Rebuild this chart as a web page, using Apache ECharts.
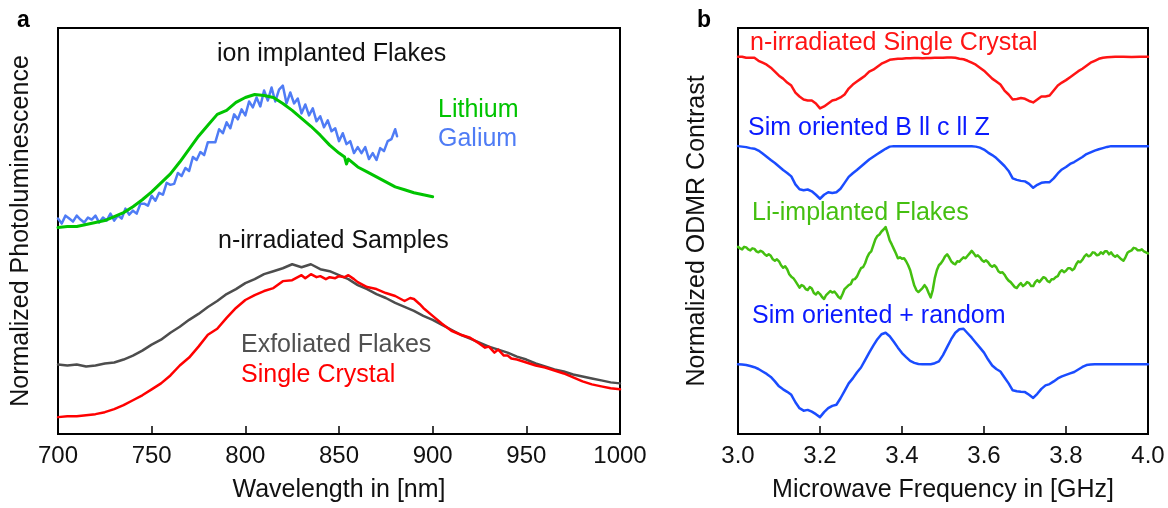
<!DOCTYPE html>
<html>
<head>
<meta charset="utf-8">
<script src="https://cdn.jsdelivr.net/npm/echarts@6/dist/echarts.min.js"></script>
<style>
html,body{margin:0;padding:0;background:#fff;}
#c{width:1168px;height:508px;}
</style>
</head>
<body>
<div id="c"></div>
<script>
// ---------- Panel a: photoluminescence (wavelength nm, normalized PL in arbitrary units) ----------
const wavelengthTicks = [700, 750, 800, 850, 900, 950, 1000];
const lithium = [[700,208],[705,209],[710,209],[715,211],[720,213],[725,215],[730,219],[735,223],[740,229],[745,236],[750,244],[755,253],[760,262],[765,274],[770,287],[775,300],[780,311],[785,322],[790,326],[795,334],[800,339],[805,342],[810,341],[815,339],[820,333],[825,326],[830,318],[835,310],[840,301],[845,291],[850,283],[853,279],[854,272],[855,277],[860,269],[865,264],[870,259],[875,254],[880,249],[885,246],[890,243],[895,241],[900,239]];
const galium = [[700,217],[702,212],[704,220],[706,217],[708,214],[710,220],[712,216],[714,213],[716,218],[718,216],[720,220],[722,213],[724,218],[726,215],[728,222],[730,215],[732,220],[734,217],[736,227],[738,221],[740,225],[742,222],[744,232],[746,232],[748,230],[750,240],[752,235],[754,243],[756,241],[758,253],[760,251],[762,252],[764,263],[766,260],[768,268],[770,265],[772,279],[774,276],[776,284],[778,281],[780,294],[782,294],[784,294],[786,307],[788,303],[790,314],[792,308],[794,322],[796,317],[798,327],[800,321],[802,335],[804,329],[806,339],[808,330],[810,346],[812,336],[814,349],[816,335],[818,347],[820,351],[822,333],[824,344],[826,333],[828,338],[830,323],[832,332],[834,321],[836,328],[838,315],[840,320],[842,309],[844,316],[846,305],[848,308],[850,295],[852,303],[854,292],[856,295],[858,283],[860,289],[862,283],[864,289],[866,277],[868,283],[870,276],[872,288],[874,285],[876,295],[878,297],[880,307],[881,300]];
const exfoliated = [[700,70],[705,69],[710,70],[715,68],[720,69],[725,71],[730,72],[735,75],[740,79],[745,84],[750,90],[755,95],[760,102],[765,108],[770,115],[775,121],[780,128],[785,134],[790,141],[795,146],[800,152],[805,156],[810,161],[815,164],[820,167],[825,171],[830,168],[835,171],[840,166],[845,164],[850,160],[855,156],[860,150],[865,146],[870,141],[875,137],[880,132],[885,128],[890,124],[895,119],[900,115],[905,110],[910,105],[915,100],[920,96],[925,92],[930,88],[935,85],[940,82],[945,78],[950,75],[955,71],[960,68],[965,65],[970,63],[975,60],[980,58],[985,56],[990,54],[995,52],[1000,51]];
const singleCrystal = [[700,17],[705,18],[710,18],[715,19],[720,20],[725,22],[730,25],[735,29],[740,34],[745,39],[750,45],[755,51],[760,59],[765,69],[770,77],[775,88],[780,100],[785,106],[790,117],[795,127],[800,135],[805,140],[810,144],[815,147],[820,154],[825,155],[830,160],[832,157],[835,161],[838,158],[840,159],[843,156],[845,158],[848,157],[850,159],[853,158],[855,160],[858,156],[860,153],[865,148],[870,146],[875,142],[880,139],[885,134],[888,137],[890,136],[893,131],[895,127],[900,119],[905,111],[910,104],[915,100],[920,97],[925,91],[928,87],[930,88],[933,82],[935,85],[938,79],[940,79],[942,76],[945,75],[950,72],[955,69],[960,67],[965,64],[970,61],[975,57],[980,53],[985,50],[990,48],[995,46],[1000,45]];

// ---------- Panel b: ODMR (frequency GHz, normalized contrast, offset traces) ----------
const freqTicks = [3.0, 3.2, 3.4, 3.6, 3.8, 4.0];
const odmrCrystal = [[3.00,380],[3.01,380],[3.02,379],[3.03,379],[3.04,379],[3.05,376],[3.06,374],[3.07,372],[3.08,369],[3.09,365],[3.10,361],[3.11,358],[3.12,354],[3.13,351],[3.14,344],[3.15,340],[3.16,337],[3.17,336],[3.18,336],[3.19,333],[3.20,328],[3.21,330],[3.22,333],[3.23,336],[3.24,337],[3.25,339],[3.26,342],[3.27,348],[3.28,352],[3.29,355],[3.30,358],[3.31,361],[3.32,365],[3.33,367],[3.34,370],[3.35,373],[3.36,375],[3.37,377],[3.38,377.5],[3.39,378],[3.40,378],[3.41,378.5],[3.42,378.5],[3.43,378.7],[3.44,378.7],[3.45,378.5],[3.46,378.8],[3.47,378.8],[3.48,379],[3.49,379],[3.50,379],[3.51,379.2],[3.52,379.3],[3.53,379],[3.54,378],[3.55,377.5],[3.56,376],[3.57,374],[3.58,372],[3.59,369],[3.60,366],[3.61,362],[3.62,358],[3.63,355],[3.64,352],[3.65,346],[3.66,342],[3.67,337],[3.68,337.5],[3.69,338.5],[3.70,337.7],[3.71,335.5],[3.72,334],[3.73,337],[3.74,340],[3.75,340],[3.76,341],[3.77,346],[3.78,351],[3.79,354],[3.80,356.5],[3.81,359.5],[3.82,362.5],[3.83,365.5],[3.84,368],[3.85,371],[3.86,374],[3.87,376],[3.88,378],[3.89,379],[3.90,379.5],[3.92,380],[3.94,380],[3.96,379.8],[3.98,380],[4.00,380]];
const odmrSimOriented = [[3.00,290],[3.01,289.5],[3.02,289],[3.03,288],[3.04,287.4],[3.05,285.5],[3.06,282.5],[3.07,279.3],[3.08,276],[3.09,273],[3.10,269.5],[3.11,266],[3.12,263],[3.13,259.5],[3.14,251.5],[3.15,246.5],[3.16,245.5],[3.17,246.3],[3.18,244.5],[3.19,241],[3.20,237],[3.21,241],[3.22,243.5],[3.23,242.8],[3.24,243.5],[3.25,247],[3.26,253],[3.27,259],[3.28,262.7],[3.29,266],[3.30,269.5],[3.31,273],[3.32,276.5],[3.33,279.3],[3.34,282],[3.35,284.7],[3.36,287.3],[3.37,289.5],[3.38,290],[3.45,290],[3.50,290],[3.56,290],[3.57,289.8],[3.58,289.5],[3.59,288.5],[3.60,286.5],[3.61,283.5],[3.62,281],[3.63,278],[3.64,274],[3.65,270],[3.66,265],[3.67,257.5],[3.68,256],[3.69,255],[3.70,254.5],[3.71,252],[3.72,248],[3.73,251],[3.74,253],[3.75,253.7],[3.76,253.7],[3.77,257.5],[3.78,262.5],[3.79,266.5],[3.80,269],[3.81,272],[3.82,274],[3.83,276.5],[3.84,279],[3.85,282],[3.86,283.8],[3.87,285.5],[3.88,286.8],[3.89,288],[3.90,289.2],[3.91,290],[4.00,290]];
const odmrLiFlakes = [[3.00,188.5],[3.005,187],[3.01,186],[3.015,188.5],[3.02,188],[3.025,186],[3.03,185],[3.035,187],[3.04,186.5],[3.045,184],[3.05,183],[3.055,184.5],[3.06,183.5],[3.065,181],[3.07,179.5],[3.075,181],[3.08,179.5],[3.085,176],[3.09,174.5],[3.095,176],[3.10,174],[3.105,170],[3.11,167.5],[3.115,169],[3.12,166],[3.125,161],[3.13,158.5],[3.135,157],[3.14,154],[3.15,147.5],[3.155,150],[3.16,149],[3.165,146],[3.17,145],[3.175,148],[3.18,146.5],[3.185,142],[3.19,140.5],[3.195,143],[3.20,141],[3.205,138],[3.21,136],[3.215,140],[3.22,142],[3.225,144],[3.23,142.5],[3.235,143.5],[3.24,141],[3.245,138],[3.25,136.5],[3.255,141],[3.26,146],[3.27,150],[3.275,151],[3.28,155.5],[3.285,156],[3.29,158.5],[3.295,163],[3.30,167],[3.305,168],[3.31,172],[3.315,178],[3.32,182],[3.325,184],[3.33,190],[3.335,196],[3.34,199.5],[3.345,201],[3.35,204],[3.355,206],[3.36,208.5],[3.365,202],[3.37,195],[3.375,191],[3.38,186.5],[3.385,182],[3.39,177],[3.395,178],[3.40,176.5],[3.405,177],[3.41,174],[3.415,170],[3.42,165],[3.425,157],[3.43,149.5],[3.435,145],[3.44,143],[3.445,145],[3.45,147],[3.455,150],[3.46,147],[3.465,142],[3.47,137.5],[3.475,145],[3.48,157],[3.485,165],[3.49,170],[3.495,172],[3.50,175],[3.505,179],[3.51,181],[3.515,178],[3.52,174],[3.525,172],[3.53,171],[3.535,174],[3.54,173.5],[3.545,176],[3.55,178],[3.555,177],[3.56,179.5],[3.565,182],[3.57,184.5],[3.575,182],[3.58,179],[3.585,180],[3.59,178],[3.595,175],[3.60,173.5],[3.605,175],[3.61,173],[3.615,170],[3.62,168.5],[3.625,170],[3.63,168],[3.635,164],[3.64,162.5],[3.645,163],[3.65,160.5],[3.655,157],[3.66,154.5],[3.665,153],[3.67,150.5],[3.675,148],[3.68,147],[3.685,150],[3.69,152],[3.695,149],[3.70,150.5],[3.705,153],[3.71,152],[3.715,149],[3.72,149],[3.725,153],[3.73,155],[3.735,153],[3.74,155.5],[3.745,158],[3.75,157],[3.755,154],[3.76,153],[3.765,156],[3.77,156],[3.775,158],[3.78,159],[3.785,163],[3.79,165],[3.795,163],[3.80,164.5],[3.805,167],[3.81,167],[3.815,165],[3.82,166.5],[3.825,171],[3.83,174],[3.835,173],[3.84,175.5],[3.845,179],[3.85,181],[3.855,179],[3.86,180],[3.865,183],[3.87,182.5],[3.875,180],[3.88,180.5],[3.885,183],[3.89,181.5],[3.895,184],[3.90,184],[3.905,181],[3.91,183],[3.915,180],[3.92,178.5],[3.925,180],[3.93,178],[3.935,176],[3.94,174.5],[3.945,178],[3.95,182.5],[3.955,184],[3.96,185],[3.965,187.5],[3.97,187],[3.975,185],[3.98,185],[3.985,186],[3.99,184],[3.995,183],[4.00,182]];
const odmrSimRandom = [[3.00,70.3],[3.01,70],[3.02,69.5],[3.03,68.5],[3.04,67.3],[3.05,65.5],[3.06,63],[3.07,60.5],[3.08,57.5],[3.09,53],[3.10,48],[3.11,45],[3.12,42.5],[3.13,39.5],[3.14,32],[3.15,26],[3.16,23.5],[3.17,24.3],[3.18,22.5],[3.19,20],[3.20,17],[3.21,22],[3.22,26],[3.23,28.3],[3.24,29.5],[3.25,36],[3.26,43.5],[3.27,51],[3.28,56],[3.29,62],[3.30,67],[3.31,74.5],[3.32,82],[3.33,89],[3.34,95.5],[3.35,100.5],[3.36,102],[3.37,98.5],[3.38,93],[3.39,87],[3.40,81.5],[3.41,77.5],[3.42,73.7],[3.43,71.7],[3.44,70.5],[3.45,70.3],[3.46,70.3],[3.47,70.3],[3.48,71.3],[3.49,73.2],[3.50,79.5],[3.51,87.5],[3.52,95.5],[3.53,102],[3.54,105.5],[3.55,106],[3.56,101.5],[3.57,97],[3.58,92],[3.59,87],[3.60,82],[3.61,75],[3.62,69],[3.63,65.5],[3.64,63],[3.65,57],[3.66,51],[3.67,44],[3.68,43],[3.69,42.5],[3.70,42.2],[3.71,39.5],[3.72,36.3],[3.73,40.5],[3.74,45.5],[3.75,49],[3.76,50.3],[3.77,53],[3.78,56],[3.79,58],[3.80,59.5],[3.81,61],[3.82,62.5],[3.83,65],[3.84,67.5],[3.85,69.5],[3.86,70],[3.87,70.3],[4.00,70.3]];

const FONT = '"Liberation Sans", Arial, Helvetica, sans-serif';
const chart = echarts.init(document.getElementById('c'), null, {renderer: 'canvas'});

function xAx(idx, min, max, interval, name, fmt) {
  return {
    type: 'value', gridIndex: idx, min: min, max: max, interval: interval,
    name: name, nameLocation: 'middle', nameGap: 44,
    nameTextStyle: {fontFamily: FONT, fontSize: 25, color: '#111'},
    axisLine: {show: true, onZero: false, lineStyle: {color: '#000', width: 2}},
    axisTick: {show: true, inside: true, length: 8, lineStyle: {color: '#000', width: 1.5}},
    axisLabel: {fontFamily: FONT, fontSize: 24, color: '#111', margin: 10, formatter: fmt},
    splitLine: {show: false}
  };
}
function yAx(idx, name, gap) {
  return {
    type: 'value', gridIndex: idx, min: 0, max: 409,
    name: name, nameLocation: 'middle', nameGap: gap, nameRotate: 90,
    nameTextStyle: {fontFamily: FONT, fontSize: 25, color: '#111'},
    axisLine: {show: true, lineStyle: {color: '#000', width: 2}},
    axisTick: {show: false}, axisLabel: {show: false}, splitLine: {show: false}
  };
}
function line(xi, data, color, width) {
  return {type: 'line', xAxisIndex: xi, yAxisIndex: xi, data: data, showSymbol: false,
    symbol: 'none', smooth: false, lineStyle: {color: color, width: width, join: 'round', cap: 'round'}, silent: true, animation: false};
}
function label(text, x, y, color, size, weight) {
  return {type: 'text', x: x, y: y, silent: true,
    style: {text: text, fill: color, font: (weight || 'normal') + ' ' + size + 'px ' + FONT,
      align: 'left', verticalAlign: 'middle'}};
}

const option = {
  animation: false,
  backgroundColor: '#fff',
  grid: [
    {left: 58, top: 28, width: 562, height: 409, show: true, borderColor: '#000', borderWidth: 2, backgroundColor: 'transparent'},
    {left: 738, top: 28, width: 410, height: 409, show: true, borderColor: '#000', borderWidth: 2, backgroundColor: 'transparent'}
  ],
  xAxis: [
    xAx(0, wavelengthTicks[0], wavelengthTicks[wavelengthTicks.length-1], 50, 'Wavelength in [nm]', v => String(v)),
    xAx(1, freqTicks[0], freqTicks[freqTicks.length-1], 0.2, 'Microwave Frequency in [GHz]', v => v.toFixed(1))
  ],
  yAxis: [
    yAx(0, 'Normalized Photoluminescence', 24),
    yAx(1, 'Normalized ODMR Contrast', 28)
  ],
  series: [
    line(0, exfoliated, '#4d4d4d', 2.5),
    line(0, singleCrystal, '#ff0000', 2.5),
    line(0, galium, '#4f7cf5', 2.5),
    line(0, lithium, '#00c400', 3),
    line(1, odmrCrystal, '#ff1414', 2.5),
    line(1, odmrSimOriented, '#1a4cff', 2.5),
    line(1, odmrLiFlakes, '#44bf10', 2.5),
    line(1, odmrSimRandom, '#1a4cff', 2.5)
  ],
  graphic: [
    label('a', 17, 21, '#000', 23, 'bold'),
    label('b', 697, 21, '#000', 23, 'bold'),
    label('ion implanted Flakes', 217, 54, '#111', 25),
    label('Lithium', 438, 110, '#00c400', 25),
    label('Galium', 438, 139, '#4f7cf5', 25),
    label('n-irradiated Samples', 218, 241, '#111', 25),
    label('Exfoliated Flakes', 241, 345, '#505050', 25),
    label('Single Crystal', 241, 375, '#ff0000', 25),
    label('n-irradiated Single Crystal', 750, 43, '#ff1414', 25),
    label('Sim oriented B ll c ll Z', 748, 128, '#0a1aff', 25),
    label('Li-implanted Flakes', 752, 213, '#44bf10', 25),
    label('Sim oriented + random', 752, 316, '#0a1aff', 25)
  ]
};
chart.setOption(option);
</script>
</body>
</html>
